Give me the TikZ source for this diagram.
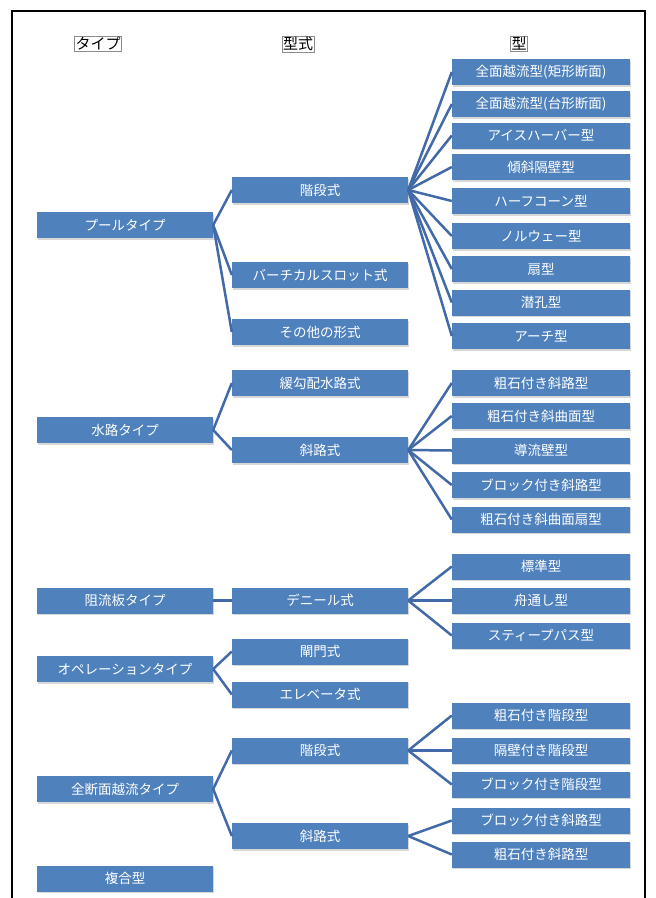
\documentclass[tikz,border=0pt]{standalone}
\usepackage{fontspec}
\setmainfont{Noto Sans CJK JP}
\usepackage{tikz}
\usetikzlibrary{shadows}

\definecolor{boxblue}{RGB}{79,129,189}
\definecolor{lineblue}{RGB}{66,106,168}

\begin{document}
\begin{tikzpicture}[x=1pt,y=-1pt,
        box/.style={rectangle,fill=boxblue,text=white,minimum width=176pt,minimum height=26pt,
            inner sep=0pt,font=\fontsize{13.5}{15}\selectfont,
            drop shadow={fill=black!35,opacity=.45,shadow xshift=1pt,shadow yshift=-1.5pt}},
        wbox/.style={box,minimum width=178pt},
        head/.style={rectangle,draw=black!45,line width=.5pt,fill=white,inner sep=1pt,
            font=\fontsize{15}{16}\selectfont},
        link/.style={draw=lineblue,line width=2.5pt}]
        \useasboundingbox (0,0) rectangle (656,898);

        %%%% Frame ======================================
        \draw[line width=1.8pt] (12,898) -- (12,11) -- (645,11) -- (645,898);

        % Headers
        \node[head] (htype) at (98, 44) {タイプ};
        \node[head] (hform) at (298, 44) {型式};
        \node[head] (hkind) at (519, 44) {型};

        %%%% Pool type ==================================
        \node[box] (pool) at (125, 225) {プールタイプ};
        \node[box] (pstep) at (320, 190) {階段式};
        \node[box] (pslot) at (320, 275) {バーチカルスロット式};
        \node[box] (pother) at (320, 332) {その他の形式};

        \node[wbox] (pstep1) at (541, 72) {全面越流型(矩形断面)};
        \node[wbox] (pstep2) at (541, 104) {全面越流型(台形断面)};
        \node[wbox] (pstep3) at (541, 135.5) {アイスハーバー型};
        \node[wbox] (pstep4) at (541, 167) {傾斜隔壁型};
        \node[wbox] (pstep5) at (541, 201) {ハーフコーン型};
        \node[wbox] (pstep6) at (541, 236) {ノルウェー型};
        \node[wbox] (pstep7) at (541, 269) {扇型};
        \node[wbox] (pstep8) at (541, 302.5) {潜孔型};
        \node[wbox] (pstep9) at (541, 336) {アーチ型};

        % Links
        \draw[link] (pool.east) -- (pstep.west);
        \draw[link] (pool.east) -- (pslot.west);
        \draw[link] (pool.east) -- (pother.west);
        \draw[link] (pstep.east) -- (pstep1.west);
        \draw[link] (pstep.east) -- (pstep2.west);
        \draw[link] (pstep.east) -- (pstep3.west);
        \draw[link] (pstep.east) -- (pstep4.west);
        \draw[link] (pstep.east) -- (pstep5.west);
        \draw[link] (pstep.east) -- (pstep6.west);
        \draw[link] (pstep.east) -- (pstep7.west);
        \draw[link] (pstep.east) -- (pstep8.west);
        \draw[link] (pstep.east) -- (pstep9.west);

        %%%% Channel type ===============================
        \node[box] (chan) at (125, 430) {水路タイプ};
        \node[box] (cgentle) at (320, 383) {緩勾配水路式};
        \node[box] (cslope) at (320, 450) {斜路式};

        \node[wbox] (cslope1) at (541, 383) {粗石付き斜路型};
        \node[wbox] (cslope2) at (541, 416) {粗石付き斜曲面型};
        \node[wbox] (cslope3) at (541, 450.5) {導流壁型};
        \node[wbox] (cslope4) at (541, 485) {ブロック付き斜路型};
        \node[wbox] (cslope5) at (541, 519.5) {粗石付き斜曲面扇型};

        % Links
        \draw[link] (chan.east) -- (cgentle.west);
        \draw[link] (chan.east) -- (cslope.west);
        \draw[link] (cslope.east) -- (cslope1.west);
        \draw[link] (cslope.east) -- (cslope2.west);
        \draw[link] (cslope.east) -- (cslope3.west);
        \draw[link] (cslope.east) -- (cslope4.west);
        \draw[link] (cslope.east) -- (cslope5.west);

        %%%% Baffle type ================================
        \node[box] (baffle) at (125, 600.5) {阻流板タイプ};
        \node[box] (denil) at (320, 600.5) {デニール式};

        \node[wbox] (denil1) at (541, 566.5) {標準型};
        \node[wbox] (denil2) at (541, 600.5) {舟通し型};
        \node[wbox] (denil3) at (541, 635.5) {スティープパス型};

        % Links
        \draw[link] (baffle.east) -- (denil.west);
        \draw[link] (denil.east) -- (denil1.west);
        \draw[link] (denil.east) -- (denil2.west);
        \draw[link] (denil.east) -- (denil3.west);

        %%%% Operation type =============================
        \node[box] (oper) at (125, 669) {オペレーションタイプ};
        \node[box] (lock) at (320, 651.5) {閘門式};
        \node[box] (elev) at (320, 694.5) {エレベータ式};

        % Links
        \draw[link] (oper.east) -- (lock.west);
        \draw[link] (oper.east) -- (elev.west);

        %%%% Full section type ==========================
        \node[box] (full) at (125, 789) {全断面越流タイプ};
        \node[box] (fstep) at (320, 750.5) {階段式};
        \node[box] (fslope) at (320, 836) {斜路式};

        \node[wbox] (fstep1) at (541, 715.5) {粗石付き階段型};
        \node[wbox] (fstep2) at (541, 750.5) {隔壁付き階段型};
        \node[wbox] (fstep3) at (541, 784.5) {ブロック付き階段型};
        \node[wbox] (fslope1) at (541, 820.5) {ブロック付き斜路型};
        \node[wbox] (fslope2) at (541, 854.5) {粗石付き斜路型};

        % Links
        \draw[link] (full.east) -- (fstep.west);
        \draw[link] (full.east) -- (fslope.west);
        \draw[link] (fstep.east) -- (fstep1.west);
        \draw[link] (fstep.east) -- (fstep2.west);
        \draw[link] (fstep.east) -- (fstep3.west);
        \draw[link] (fslope.east) -- (fslope1.west);
        \draw[link] (fslope.east) -- (fslope2.west);

        %%%% Compound type ==============================
        \node[box] (comp) at (125, 878.5) {複合型};
    \end{tikzpicture}
\end{document}
